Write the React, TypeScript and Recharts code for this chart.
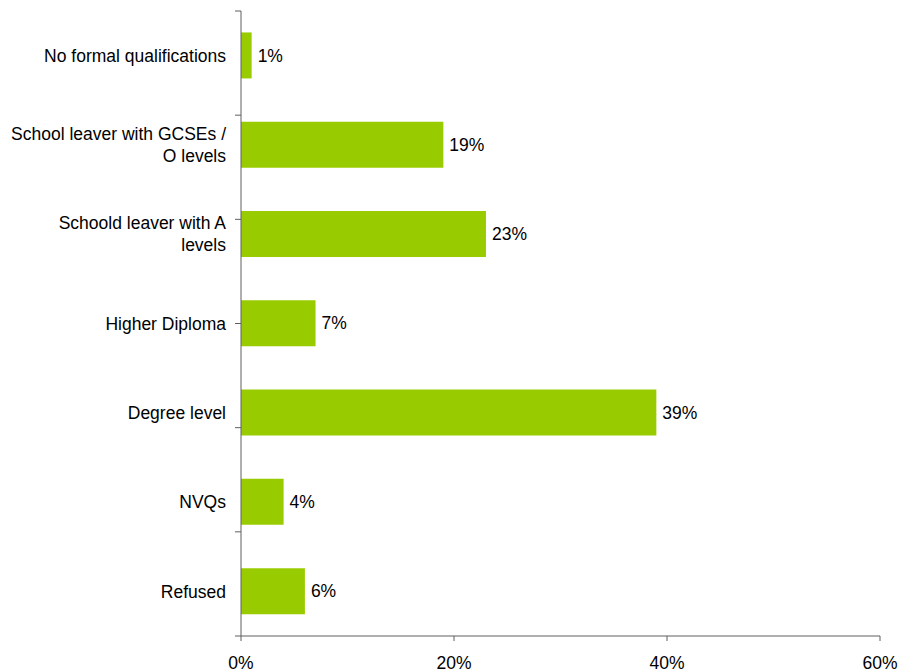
import React from 'react';
import { BarChart, Bar, XAxis, YAxis, LabelList } from 'recharts';

const categories = [
  'No formal qualifications',
  'School leaver with GCSEs /\nO levels',
  'Schoold leaver with A\nlevels',
  'Higher Diploma',
  'Degree level',
  'NVQs',
  'Refused',
];
const values = [1, 19, 23, 7, 39, 4, 6];
const xTicks = [0, 20, 40, 60];
const bandEdges = [0, 1, 2, 3, 4, 5, 6, 7];

const data = categories.map((c, i) => ({ name: c, value: values[i] }));

const FONT = '"Liberation Sans", Arial, sans-serif';
const FS = 17.5;
const AXIS = '#5f5f5f';

const CatTick = (props: any) => {
  const { x, y, payload } = props;
  const lines = String(payload.value).split('\n');
  const lh = 22;
  const y0 = y - ((lines.length - 1) * lh) / 2;
  return (
    <text x={x} y={y0} textAnchor="end" fontSize={FS} fill="#000" fontFamily={FONT}>
      {lines.map((l: string, i: number) => (
        <tspan key={i} x={x} y={y0 + i * lh} dy="0.355em">
          {l}
        </tspan>
      ))}
    </text>
  );
};

const EmptyTick = () => <g />;

export default function App() {
  return (
    <div style={{ position: 'absolute', left: 0, top: 0, background: '#fff' }}>
      <BarChart
        width={901}
        height={672}
        data={data}
        layout="vertical"
        margin={{ top: 11, right: 21, bottom: 0, left: 0 }}
        barCategoryGap="24%"
      >
        <XAxis
          type="number"
          domain={[0, 60]}
          ticks={xTicks}
          tickFormatter={(v: number) => `${v}%`}
          height={36}
          tickSize={5}
          tickMargin={16}
          stroke={AXIS}
          tick={{ fill: '#000', fontSize: FS, fontFamily: FONT }}
          axisLine={{ stroke: AXIS }}
          tickLine={{ stroke: AXIS }}
          interval={0}
        />
        <YAxis
          yAxisId="a"
          type="number"
          domain={[0, 7]}
          ticks={bandEdges}
          allowDataOverflow
          width={1}
          tick={<EmptyTick />}
          tickSize={6}
          axisLine={{ stroke: AXIS }}
          tickLine={{ stroke: AXIS }}
          interval={0}
        />
        <YAxis
          yAxisId="z"
          type="category"
          dataKey="name"
          width={240}
          axisLine={false}
          tickLine={false}
          tickSize={5}
          tickMargin={9}
          tick={<CatTick />}
          interval={0}
        />
        <Bar dataKey="value" yAxisId="z" fill="#99CC00" isAnimationActive={false}>
          <LabelList
            dataKey="value"
            position="right"
            offset={6}
            formatter={(v: any) => `${v}%`}
            fill="#000"
            fontSize={FS}
            fontFamily={FONT}
          />
        </Bar>
      </BarChart>
    </div>
  );
}
